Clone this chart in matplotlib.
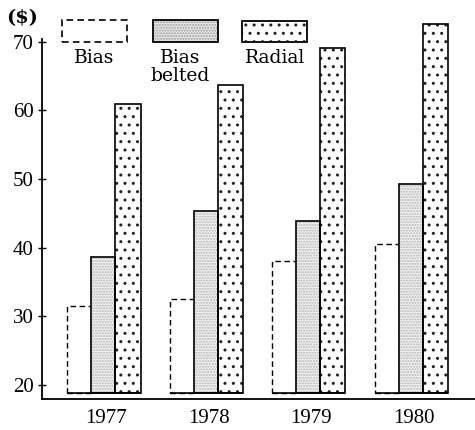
import matplotlib
matplotlib.use("Agg")
import matplotlib.pyplot as plt
from matplotlib.patches import Rectangle
import numpy as np

years = ["1977", "1978", "1979", "1980"]
bias = [31.5, 32.5, 38.0, 40.6]
bias_belted = [38.7, 45.4, 43.9, 49.3]
radial = [60.9, 63.7, 69.1, 72.6]
y_ticks = [20, 30, 40, 50, 60, 70]
legend_labels = ["Bias", "Bias\nbelted", "Radial"]

W, H = 475, 430
fig = plt.figure(figsize=(W / 100, H / 100), dpi=100)
ax = fig.add_axes([42 / W, 1 - 399 / H, 1 - 42 / W, 398.5 / H])

base = 18.8
ymin, ymax = 17.96, 76.0
x = np.arange(len(years))
w = 0.235
rad_w = 0.245

plt.rcParams['hatch.linewidth'] = 1.0

# Bias: white with dashed edge
ax.bar(x - w, np.array(bias) - base, w, bottom=base, facecolor="white",
       edgecolor="black", linestyle=(0, (4, 2.5)), linewidth=1.0, zorder=2)
# Bias belted: fine grey stipple
ax.bar(x, np.array(bias_belted) - base, w, bottom=base, facecolor="#f1f1f1",
       edgecolor="#b5b5b5", hatch="......", linewidth=0, zorder=3)
ax.bar(x, np.array(bias_belted) - base, w, bottom=base, facecolor="none",
       edgecolor="black", linewidth=1.2, zorder=4)
# Radial: sparse black dots
ax.bar(x + w + (rad_w - w) / 2, np.array(radial) - base, rad_w, bottom=base,
       facecolor="white", edgecolor="#222222", hatch="..", linewidth=0, zorder=3)
ax.bar(x + w + (rad_w - w) / 2, np.array(radial) - base, rad_w, bottom=base,
       facecolor="none", edgecolor="black", linewidth=1.2, zorder=4)
# solid baseline under each group
for xi in x:
    ax.plot([xi - 1.5 * w, xi + w / 2 + rad_w], [base, base], color="black",
            lw=1.2, zorder=5, solid_capstyle="butt")

ax.set_xlim(-0.60, 3.627)
ax.set_ylim(ymin, ymax)
ax.set_yticks(y_ticks)
ax.set_yticklabels([str(t) for t in y_ticks], fontfamily="Liberation Serif",
                   fontsize=15)
ax.set_xticks(x + 0.03)
ax.set_xticklabels(years, fontfamily="Liberation Serif", fontsize=15)
ax.tick_params(axis="x", length=0, pad=7)
ax.tick_params(axis="y", direction="inout", length=6, width=1.0, pad=3)
for s in ["top", "right"]:
    ax.spines[s].set_visible(False)
ax.spines["left"].set_bounds(ymin, 70.4)
ax.spines["left"].set_linewidth(1.3)
ax.spines["bottom"].set_linewidth(1.3)

# legend boxes (figure pixel coords)
def fbox(x0, y0, x1, y1, **kw):
    r = Rectangle((x0 / W, 1 - y1 / H), (x1 - x0) / W, (y1 - y0) / H,
                  transform=fig.transFigure, **kw)
    fig.add_artist(r)

fbox(62, 20, 127, 42, facecolor="white", edgecolor="black",
     linestyle=(0, (4, 2.5)), linewidth=1.2)
fbox(153, 20, 218, 42, facecolor="#e6e6e6", edgecolor="#a0a0a0",
     hatch="......", linewidth=0)
fbox(153, 20, 218, 42, facecolor="none", edgecolor="black", linewidth=1.3)
fbox(242, 21, 307, 42, facecolor="white", edgecolor="#222222", hatch="..",
     linewidth=0)
fbox(242, 21, 307, 42, facecolor="none", edgecolor="black", linewidth=1.3)

lab_font = dict(fontfamily="DejaVu Serif", fontsize=13.5, va="top",
                ha="center")
fig.text(94 / W, 1 - 49 / H, legend_labels[0], **lab_font)
fig.text(180 / W, 1 - 49 / H, legend_labels[1], linespacing=1.0, **lab_font)
fig.text(275 / W, 1 - 49 / H, legend_labels[2], **lab_font)

fig.text(22 / W, 1 - 18 / H, "($)", fontfamily="DejaVu Serif", fontsize=14,
         fontweight="bold", ha="center", va="center")

fig.savefig("out.png", dpi=100)
